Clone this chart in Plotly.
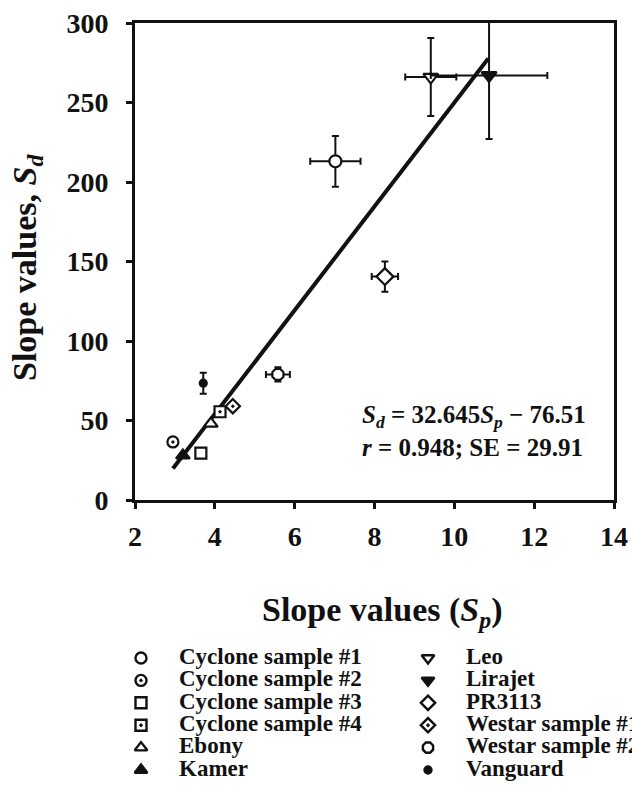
import plotly.graph_objects as go

# ---- data ----
names = ["Cyclone sample #1", "Cyclone sample #2", "Cyclone sample #3", "Cyclone sample #4",
         "Ebony", "Kamer", "Leo", "Lirajet", "PR3113", "Westar sample #1",
         "Westar sample #2", "Vanguard"]
sp = [7.02, 2.95, 3.65, 4.13, 3.90, 3.20, 9.41, 10.87, 8.26, 4.45, 5.58, 3.71]
sd = [213, 36.5, 29.5, 55.5, 48, 28, 266, 267, 140.5, 59, 79, 73.5]
sp_err = [0.63, 0, 0, 0, 0, 0, 0.64, 1.46, 0.33, 0, 0.30, 0]
sd_err = [16, 0, 0, 0, 0, 0, 24.5, 40, 9.5, 0, 4.5, 6.6]
symbols = ["circle", "circle-dot", "square", "square-dot",
           "triangle-up", "triangle-up", "triangle-down", "triangle-down",
           "diamond", "diamond-dot", "octagon", "circle"]
filled = [False, False, False, False, False, True, False, True, False, False, False, True]
sizes = [12, 11, 11, 11, 12, 12, 13, 13, 13, 11, 12, 7]

fit_slope = 32.645
fit_intercept = -76.51
fit_x = [2.95, 10.85]

x_ticks = [2, 4, 6, 8, 10, 12, 14]
y_ticks = [0, 50, 100, 150, 200, 250, 300]

INK = "#111111"
FONT = "Liberation Serif"
W, H = 632, 807
PL, PR, PT, PB = 135, 614, 23, 500          # plot area in page pixels

# legend layout (page pixels)
LEG_COL_X = [141, 428]
LEG_TEXT_DX = 38
LEG_TOP = 658
LEG_STEP = 22.4
LEG_ROWS = 6

fig = go.Figure()

# regression line
fig.add_trace(go.Scatter(
    x=fit_x, y=[fit_slope * v + fit_intercept for v in fit_x],
    mode="lines", line=dict(color=INK, width=4), showlegend=False, hoverinfo="skip"))

for i, n in enumerate(names):
    fill = INK if filled[i] else "white"
    fig.add_trace(go.Scatter(
        x=[sp[i]], y=[sd[i]], mode="markers", name=n, showlegend=False,
        marker=dict(symbol=symbols[i], size=sizes[i], color=fill,
                    line=dict(color=INK, width=2.2)),
        error_x=dict(type="data", array=[sp_err[i]], visible=sp_err[i] > 0,
                     color=INK, thickness=2, width=3.5),
        error_y=dict(type="data", array=[sd_err[i]], visible=sd_err[i] > 0,
                     color=INK, thickness=2, width=3.5),
    ))

# legend, drawn on an auxiliary pixel-scaled axis pair
leg_x = [LEG_COL_X[i // LEG_ROWS] for i in range(len(names))]
leg_y = [LEG_TOP + (i % LEG_ROWS) * LEG_STEP for i in range(len(names))]
for i, n in enumerate(names):
    fill = INK if filled[i] else "white"
    fig.add_trace(go.Scatter(
        x=[leg_x[i]], y=[leg_y[i]], xaxis="x2", yaxis="y2", mode="markers",
        showlegend=False, hoverinfo="skip", cliponaxis=False,
        marker=dict(symbol=symbols[i], size=11 if sizes[i] > 8 else 7,
                    color=fill, line=dict(color=INK, width=2.4))))
fig.add_trace(go.Scatter(
    x=[v + LEG_TEXT_DX for v in leg_x], y=leg_y, xaxis="x2", yaxis="y2",
    mode="text", text=names, textposition="middle right", cliponaxis=False,
    textfont=dict(family=FONT, size=23, color=INK, weight="bold"),
    showlegend=False, hoverinfo="skip"))

LEG_DOMAIN_TOP = 1 - 520 / H

axis_common = dict(
    showline=True, linecolor=INK, linewidth=3, mirror=True,
    ticks="outside", ticklen=6, tickwidth=2.5, tickcolor=INK,
    showgrid=False, zeroline=False,
    tickfont=dict(family=FONT, size=28, color=INK, weight="bold"),
)

fig.update_layout(
    xaxis=dict(domain=[PL / W, PR / W], range=[2, 14], tickvals=x_ticks,
               ticklabelstandoff=3, **axis_common),
    yaxis=dict(domain=[1 - PB / H, 1 - PT / H], range=[0, 300], tickvals=y_ticks,
               ticklabelstandoff=12, **axis_common),
    xaxis2=dict(domain=[0, 1], range=[0, W], visible=False, anchor="y2"),
    yaxis2=dict(domain=[0, LEG_DOMAIN_TOP], range=[H, H * (1 - LEG_DOMAIN_TOP)],
                visible=False, anchor="x2"),
)


def py(p):
    return 1 - p / H


def px(p):
    return p / W


annotations = [
    dict(text="Slope values, <i>S<sub>d</sub></i>", xref="paper", yref="paper",
         x=px(27), y=py(268), textangle=-90, showarrow=False,
         xanchor="center", yanchor="middle",
         font=dict(family=FONT, size=34, color=INK, weight="bold")),
    dict(text="Slope values (<i>S<sub>p</sub></i>)", xref="paper", yref="paper",
         x=px(382), y=py(612), showarrow=False, xanchor="center", yanchor="middle",
         font=dict(family=FONT, size=34, color=INK, weight="bold")),
    dict(text="<i>S<sub>d</sub></i> = 32.645<i>S<sub>p</sub></i> \u2212 76.51<br>"
              "<i>r</i> = 0.948; SE = 29.91",
         xref="paper", yref="paper", x=px(360), y=py(431), showarrow=False,
         xanchor="left", yanchor="middle", align="left",
         font=dict(family=FONT, size=25, color=INK, weight="bold")),
]

fig.update_layout(
    width=W, height=H,
    margin=dict(l=0, r=0, t=0, b=0, autoexpand=False),
    paper_bgcolor="white", plot_bgcolor="rgba(0,0,0,0)",
    annotations=annotations, showlegend=False,
)

fig.write_html("out.html")
